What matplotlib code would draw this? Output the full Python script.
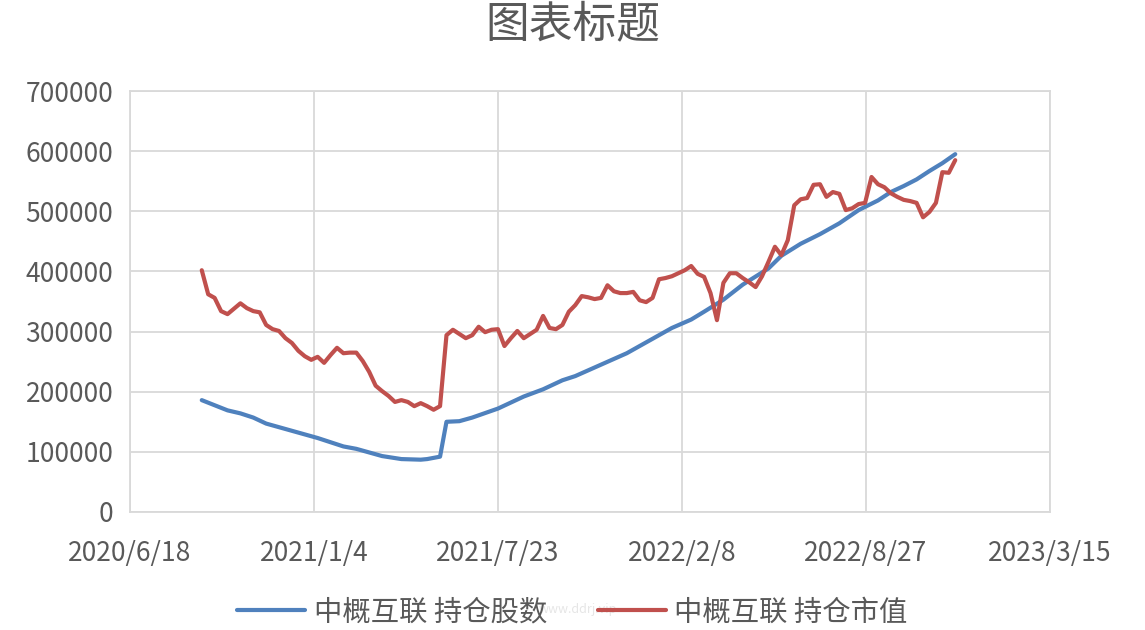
import matplotlib
matplotlib.use("Agg")
import matplotlib.pyplot as plt
import matplotlib.dates as mdates
from matplotlib.ticker import FixedLocator, FuncFormatter
import pandas as pd

plt.rcParams['font.family'] = ['Noto Sans CJK SC', 'DejaVu Sans']

title = "图表标题"
series_names = ["中概互联 持仓股数", "中概互联 持仓市值"]

# red series: weekly observations
red_start = "2020-09-04"
red_values = [
    402000, 362000, 356000, 334000, 329000, 338000, 347000, 339000, 334000, 332000,
    311000, 304000, 301000, 289000, 281000, 268000, 259000, 253000, 258000, 248000,
    261000, 273000, 264000, 265000, 265000, 251000, 233000, 210000, 201000, 193000,
    183000, 186000, 183000, 176000, 181000, 176000, 170000, 176000, 294000, 303000,
    296000, 289000, 294000, 308000, 299000, 303000, 304000, 276000, 289000, 301000,
    289000, 296000, 303000, 326000, 306000, 304000, 311000, 333000, 344000, 359000,
    357000, 354000, 356000, 377000, 367000, 364000, 364000, 366000, 352000, 349000,
    356000, 387000, 389000, 392000, 397000, 402000, 409000, 396000, 391000, 364000,
    319000, 381000, 397000, 397000, 389000, 382000, 374000, 392000, 416000, 441000,
    427000, 452000, 510000, 520000, 522000, 544000, 545000, 524000, 532000, 529000,
    502000, 505000, 512000, 514000, 557000, 545000, 540000, 530000, 524000, 519000,
    517000, 514000, 490000, 499000, 514000, 565000, 564000, 585000,
]

# blue series
blue_dates = [
    "2020-09-04", "2020-10-02", "2020-10-16", "2020-10-30", "2020-11-13", "2020-12-11",
    "2021-01-08", "2021-02-05", "2021-02-19", "2021-02-26", "2021-03-19", "2021-04-09",
    "2021-04-30", "2021-05-07", "2021-05-21", "2021-05-28", "2021-06-11", "2021-06-25",
    "2021-07-23", "2021-08-20", "2021-09-10", "2021-10-01", "2021-10-15", "2021-11-12",
    "2021-12-10", "2022-01-07", "2022-01-28", "2022-02-18", "2022-03-04", "2022-03-25",
    "2022-04-15", "2022-05-13", "2022-05-27", "2022-06-17", "2022-07-08", "2022-07-29",
    "2022-08-19", "2022-09-09", "2022-09-23", "2022-10-07", "2022-10-21", "2022-11-04",
    "2022-11-18", "2022-12-02",
]
blue_values = [
    186000, 169000, 164000, 157000, 147000, 135000,
    123000, 109000, 105000, 102000, 93000, 88000,
    87000, 88000, 92000, 150000, 151000, 157000,
    172000, 192000, 204000, 219000, 226000, 245000,
    264000, 288000, 306000, 320000, 333000, 353000,
    378000, 405000, 426000, 446000, 462000, 480000,
    502000, 518000, 532000, 542000, 553000, 567000,
    580000, 595000,
]

x_tick_labels = ["2020/6/18", "2021/1/4", "2021/7/23", "2022/2/8", "2022/8/27", "2023/3/15"]
y_ticks = [0, 100000, 200000, 300000, 400000, 500000, 600000, 700000]

red_dates = pd.date_range(red_start, periods=len(red_values), freq="7D")
blue_dt = pd.to_datetime(blue_dates)
tick_dt = pd.to_datetime(x_tick_labels, format="%Y/%m/%d")

fig = plt.figure(figsize=(11.45, 6.3), dpi=100)
ax = fig.add_axes([130/1145, 118/630, 920/1145, 421/630])

blue_c = "#4f81bd"
red_c = "#c0504d"
ax.plot(blue_dt, blue_values, color=blue_c, lw=3.0, solid_capstyle="round",
        solid_joinstyle="round", label=series_names[0], zorder=3)
ax.plot(red_dates, red_values, color=red_c, lw=3.0, solid_capstyle="round",
        solid_joinstyle="round", label=series_names[1], zorder=4)

ax.set_xlim(tick_dt[0], tick_dt[-1])
ax.set_ylim(y_ticks[0], y_ticks[-1])
ax.xaxis.set_major_locator(FixedLocator(mdates.date2num(tick_dt)))
ax.set_xticklabels(x_tick_labels)
ax.yaxis.set_major_locator(FixedLocator(y_ticks))
ax.yaxis.set_major_formatter(FuncFormatter(lambda v, p: f"{int(v)}"))

grid_c = "#d9d9d9"
ax.grid(True, color=grid_c, lw=1.3)
ax.set_axisbelow(True)
for s in ax.spines.values():
    s.set_color(grid_c)
    s.set_linewidth(1.3)
ax.tick_params(axis="both", length=0, labelsize=19, colors="#595959")
ax.tick_params(axis="x", pad=20)
ax.tick_params(axis="y", pad=12)

fig.text(0.5, 0.962, title, ha="center", va="center", fontsize=31.5, color="#595959")

leg = fig.legend(loc="center", bbox_to_anchor=(0.5, 0.028), ncol=2, frameon=False,
                 fontsize=20.4, handlelength=2.4, columnspacing=1.8, handletextpad=0.3)
for t in leg.get_texts():
    t.set_color("#595959")

fig.text(0.505, 0.033, "www.ddrj.vip", ha="center", va="center", fontsize=9, color="#e6e6e6")

fig.savefig("out.png", dpi=100)
